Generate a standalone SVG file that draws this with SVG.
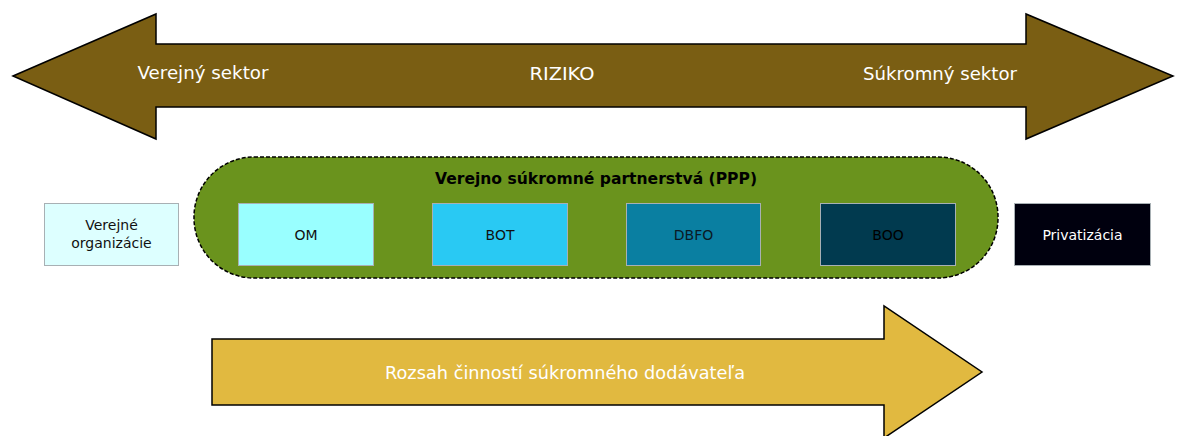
<svg xmlns="http://www.w3.org/2000/svg" width="1181" height="436" viewBox="0 0 1181 436">
<style>
text{font-family:"DejaVu Sans","Liberation Sans",sans-serif;text-anchor:middle;dominant-baseline:central}
.big{font-size:17px;fill:#fff}
.box{stroke:#a8b0b4;stroke-width:1}
.bt{font-size:14px;fill:#111}
</style>
<rect width="1181" height="436" fill="#fff"/>
<g id="riziko">
<path d="M13,76 L156,14 L156,44 L1026,44 L1026,14 L1173,76 L1026,139 L1026,107 L156,107 L156,139 Z" fill="#7A5E13" stroke="#000" stroke-width="1.5" stroke-linejoin="miter"/>
<text class="big" x="203" y="73" textLength="131" lengthAdjust="spacingAndGlyphs">Verejný sektor</text>
<text class="big" x="562" y="74" textLength="65" lengthAdjust="spacingAndGlyphs">RIZIKO</text>
<text class="big" x="940" y="74" textLength="154" lengthAdjust="spacingAndGlyphs">Súkromný sektor</text>
</g>
<g id="ppp">
<rect x="194" y="157" width="804" height="121" rx="60" ry="60" fill="#6A931D" stroke="#000" stroke-width="1.5" stroke-dasharray="4,2"/>
<text x="596" y="179" style="font-size:15.5px;font-weight:bold;fill:#000" textLength="322" lengthAdjust="spacingAndGlyphs">Verejno súkromné partnerstvá (PPP)</text>
</g>
<g id="verejne">
<rect class="box" x="44.5" y="203.5" width="134" height="62" fill="#DDFFFF"/>
<text class="bt" x="111.5" y="225">Verejné</text>
<text class="bt" x="111.5" y="243">organizácie</text>
</g>
<g id="om">
<rect class="box" x="238.5" y="203.5" width="135" height="62" fill="#99FFFF"/>
<text class="bt" x="306" y="235">OM</text>
</g>
<g id="bot">
<rect class="box" x="432.5" y="203.5" width="135" height="62" fill="#29C9F3"/>
<text class="bt" x="500" y="235">BOT</text>
</g>
<g id="dbfo">
<rect class="box" x="626.5" y="203.5" width="134" height="62" fill="#0A7FA1"/>
<text class="bt" x="693.5" y="235" style="fill:#0a1a25">DBFO</text>
</g>
<g id="boo">
<rect class="box" x="820.5" y="203.5" width="135" height="62" fill="#013A4F"/>
<text class="bt" x="888" y="235" style="fill:#000">BOO</text>
</g>
<g id="privatizacia">
<rect class="box" x="1014.5" y="203.5" width="136" height="62" fill="#00000E"/>
<text class="bt" x="1082.5" y="235" style="fill:#fff">Privatizácia</text>
</g>
<g id="rozsah">
<path d="M212,339 L884,339 L884,306 L982,372 L884,438 L884,405 L212,405 Z" fill="#E1B940" stroke="#000" stroke-width="1.5"/>
<text x="565" y="373" style="font-size:17px;fill:#fff" textLength="360" lengthAdjust="spacingAndGlyphs">Rozsah činností súkromného dodávateľa</text>
</g>
</svg>
